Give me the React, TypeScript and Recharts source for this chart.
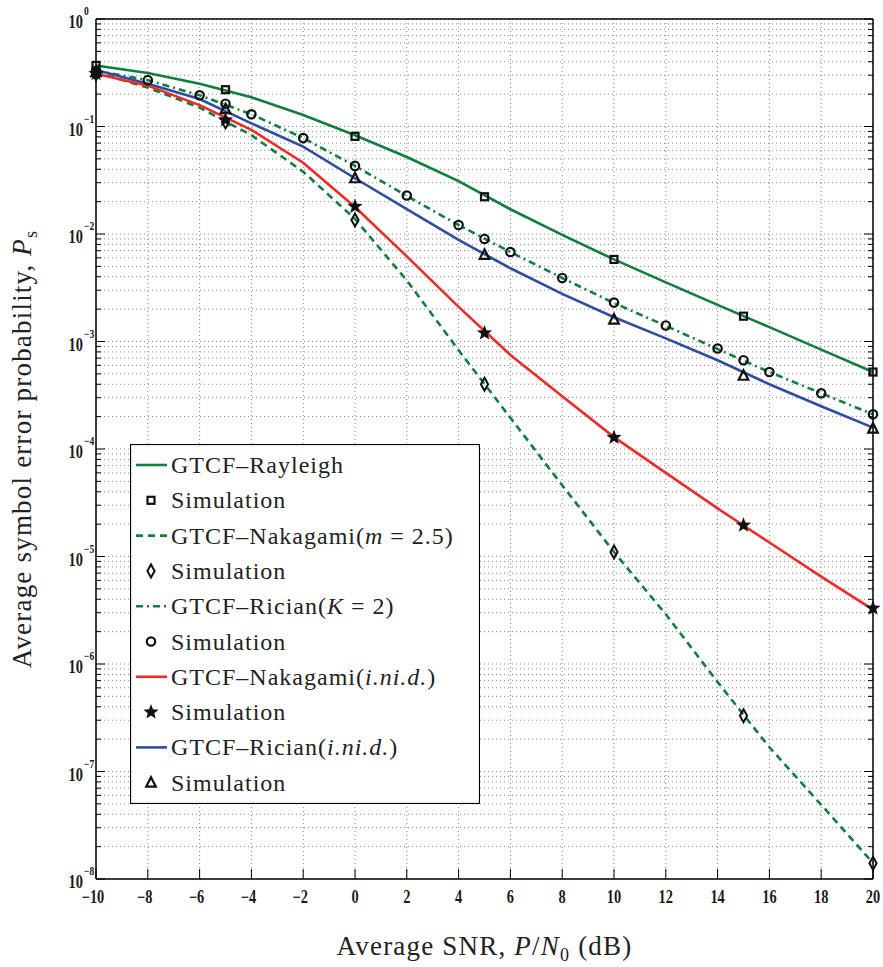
import React from 'react';
import {
  ComposedChart,
  Line,
  Scatter,
  XAxis,
  YAxis,
  CartesianGrid,
  Legend,
  Label,
} from 'recharts';

// SNR grid (dB) used by the analytical curves
const snrGrid = [-10, -8, -6, -4, -2, 0, 2, 4, 6, 8, 10, 12, 14, 16, 18, 20];

// Analytical symbol error probability
const rayleighTheory = [0.37, 0.315, 0.25, 0.187, 0.128, 0.083, 0.052, 0.031, 0.017, 0.0098, 0.0058, 0.00355, 0.00219, 0.00136, 0.00084, 0.00052];
const nakagamiTheory = [0.32, 0.23, 0.15, 0.083, 0.038, 0.0138, 0.0037, 8.3e-4, 1.95e-4, 4.6e-5, 1.1e-5, 2.9e-6, 6.8e-7, 1.68e-7, 4.9e-8, 1.41e-8];
const ricianTheory = [0.33, 0.27, 0.195, 0.13, 0.078, 0.043, 0.0226, 0.0121, 0.0068, 0.0039, 0.00228, 0.0014, 0.00085, 0.00052, 0.00033, 0.00021];
const nakagamiInidTheory = [0.31, 0.24, 0.158, 0.093, 0.046, 0.0178, 0.0062, 0.0021, 7.5e-4, 3.1e-4, 1.29e-4, 6e-5, 2.8e-5, 1.35e-5, 6.5e-6, 3.2e-6];
const ricianInidTheory = [0.335, 0.25, 0.18, 0.107, 0.065, 0.033, 0.017, 0.0088, 0.0048, 0.00277, 0.00168, 0.00107, 0.00067, 0.0004, 0.00025, 0.000158];

// Monte Carlo points
const simSnr = [-10, -5, 0, 5, 10, 15, 20];
const rayleighSim = [0.37, 0.22, 0.081, 0.0222, 0.0058, 0.00172, 0.00052];
const nakagamiSim = [0.31, 0.11, 0.0135, 4.0e-4, 1.1e-5, 3.3e-7, 1.4e-8];
const nakagamiInidSim = [0.31, 0.115, 0.018, 0.0012, 1.28e-4, 1.95e-5, 3.3e-6];
const ricianInidSim = [0.32, 0.145, 0.033, 0.0064, 0.0016, 0.00048, 0.000155];

const ricianSimSnr = [-10, -8, -6, -5, -4, -2, 0, 2, 4, 5, 6, 8, 10, 12, 14, 15, 16, 18, 20];
const ricianSim = [0.33, 0.27, 0.195, 0.163, 0.13, 0.078, 0.043, 0.0228, 0.0121, 0.009, 0.0068, 0.0039, 0.0023, 0.00141, 0.00086, 0.00067, 0.00052, 0.00033, 0.00021];

// Axis ticks
const xTicks = [-10, -8, -6, -4, -2, 0, 2, 4, 6, 8, 10, 12, 14, 16, 18, 20];
const decadeExps = [-8, -7, -6, -5, -4, -3, -2, -1];
const mantissas = [1, 2, 3, 4, 5, 6, 7, 8, 9];
const yTicks = [...decadeExps.flatMap((e) => mantissas.map((m) => m * Math.pow(10, e))), 1];

const GREEN = '#0f7f3e';
const RED = '#ee2b25';
const BLUE = '#2f4ea1';
const SERIF = '"Liberation Serif", "Times New Roman", serif';

const pts = (xs: number[], ys: number[]) => xs.map((snr, i) => ({ snr, p: ys[i] }));

type ShapeName = 'square' | 'diamond' | 'circle' | 'star' | 'triangle';

const Marker = ({ shape, cx, cy }: { shape: ShapeName; cx: number; cy: number }) => {
  const stroke = '#111';
  switch (shape) {
    case 'square':
      return <rect x={cx - 3.5} y={cy - 3.5} width={7} height={7} fill="none" stroke={stroke} strokeWidth={2.2} />;
    case 'diamond':
      return (
        <path
          d={`M${cx},${cy - 6.5} L${cx + 3.6},${cy} L${cx},${cy + 6.5} L${cx - 3.6},${cy} Z`}
          fill="none"
          stroke={stroke}
          strokeWidth={2}
        />
      );
    case 'circle':
      return <circle cx={cx} cy={cy} r={4.2} fill="none" stroke={stroke} strokeWidth={2.2} />;
    case 'star': {
      const outer = 8;
      const inner = 3.4;
      let d = '';
      for (let k = 0; k < 10; k++) {
        const r = k % 2 === 0 ? outer : inner;
        const a = -Math.PI / 2 + (k * Math.PI) / 5;
        d += `${k === 0 ? 'M' : 'L'}${cx + r * Math.cos(a)},${cy + r * Math.sin(a)} `;
      }
      return <path d={d + 'Z'} fill="#111" stroke="none" />;
    }
    case 'triangle':
      return (
        <path
          d={`M${cx},${cy - 5.5} L${cx + 4.8},${cy + 4} L${cx - 4.8},${cy + 4} Z`}
          fill="none"
          stroke={stroke}
          strokeWidth={2.2}
        />
      );
    default:
      return null;
  }
};

const markerShape = (shape: ShapeName) => (props: any) => <Marker shape={shape} cx={props.cx} cy={props.cy} />;

// condensed bold tick text, like the MATLAB export
const TickText = ({ x, y, anchor, size, children }: any) => (
  <text
    transform={`translate(${x},${y}) scale(0.8,1)`}
    textAnchor={anchor}
    style={{ fontFamily: SERIF, fontWeight: 'bold', fontSize: size }}
    fill="#1a1a1a"
  >
    {children}
  </text>
);

const isDecade = (v: number) => Math.abs(Math.log10(v) - Math.round(Math.log10(v))) < 1e-6;

const BottomTick = ({ x, y, payload }: any) => {
  const v = payload.value;
  const label = v < 0 ? `\u2212${-v}` : `${v}`;
  return (
    <g>
      <line x1={x} y1={y} x2={x} y2={y - 10} stroke="#000" strokeWidth={1} />
      <TickText x={v < 0 ? x - 3 : x} y={y + 24} anchor="middle" size={18}>
        {label}
      </TickText>
    </g>
  );
};

const TopTick = ({ x, y }: any) => <line x1={x} y1={y} x2={x} y2={y + 10} stroke="#000" strokeWidth={1} />;

const LeftTick = ({ x, y, payload }: any) => {
  const v = payload.value;
  const major = isDecade(v);
  const e = Math.round(Math.log10(v));
  return (
    <g>
      <line x1={x} y1={y} x2={x + (major ? 9 : 5)} y2={y} stroke="#000" strokeWidth={1} />
      {major && (
        <>
          <TickText x={x - 13} y={y + 9} anchor="end" size={18}>
            10
          </TickText>
          <TickText x={x - 12} y={y - 4} anchor="start" size={12}>
            {e < 0 ? `\u2212${-e}` : `${e}`}
          </TickText>
        </>
      )}
    </g>
  );
};

const RightTick = ({ x, y, payload }: any) => {
  const major = isDecade(payload.value);
  return <line x1={x} y1={y} x2={x - (major ? 9 : 5)} y2={y} stroke="#000" strokeWidth={1} />;
};

const titleStyle = { fontFamily: SERIF, fontSize: 27, letterSpacing: '1.2px' };

const XTitle = ({ viewBox }: any) => (
  <text x={viewBox.x + viewBox.width / 2} y={viewBox.y + 76} textAnchor="middle" style={titleStyle} fill="#222">
    Average SNR, <tspan style={{ fontStyle: 'italic' }}>P</tspan>/<tspan style={{ fontStyle: 'italic' }}>N</tspan>
    <tspan style={{ fontSize: 18 }} dy={6}>0</tspan>
    <tspan dy={-6}> (dB)</tspan>
  </text>
);

const YTitle = ({ viewBox }: any) => {
  const cx = viewBox.x + 31;
  const cy = viewBox.y + viewBox.height / 2;
  return (
    <text transform={`translate(${cx},${cy}) rotate(-90)`} textAnchor="middle" style={titleStyle} fill="#222">
      Average symbol error probability, <tspan style={{ fontStyle: 'italic' }}>P</tspan>
      <tspan style={{ fontSize: 18 }} dy={6}>s</tspan>
    </text>
  );
};

type LegendRow =
  | { kind: 'line'; color: string; dash?: string; label: React.ReactNode }
  | { kind: 'marker'; shape: ShapeName; label: React.ReactNode };

const it = (s: string) => <tspan style={{ fontStyle: 'italic' }}>{s}</tspan>;

const legendRows: LegendRow[] = [
  { kind: 'line', color: GREEN, label: 'GTCF\u2013Rayleigh' },
  { kind: 'marker', shape: 'square', label: 'Simulation' },
  { kind: 'line', color: GREEN, dash: '7 5', label: <>GTCF{'\u2013'}Nakagami({it('m')} = 2.5)</> },
  { kind: 'marker', shape: 'diamond', label: 'Simulation' },
  { kind: 'line', color: GREEN, dash: '7 4 2 4', label: <>GTCF{'\u2013'}Rician({it('K')} = 2)</> },
  { kind: 'marker', shape: 'circle', label: 'Simulation' },
  { kind: 'line', color: RED, label: <>GTCF{'\u2013'}Nakagami({it('i.ni.d.')})</> },
  { kind: 'marker', shape: 'star', label: 'Simulation' },
  { kind: 'line', color: BLUE, label: <>GTCF{'\u2013'}Rician({it('i.ni.d.')})</> },
  { kind: 'marker', shape: 'triangle', label: 'Simulation' },
];

const LEGEND_W = 350;
const LEGEND_H = 360;

const LegendBox = () => (
  <svg width={LEGEND_W} height={LEGEND_H} style={{ display: 'block' }}>
    <rect x={0.5} y={0.5} width={LEGEND_W - 1} height={LEGEND_H - 1} fill="#fff" stroke="#000" strokeWidth={1.2} />
    {legendRows.map((row, i) => {
      const cy = 21 + i * 35.3;
      return (
        <g key={i}>
          {row.kind === 'line' ? (
            <line x1={6} y1={cy} x2={37} y2={cy} stroke={row.color} strokeWidth={2.6} strokeDasharray={row.dash} />
          ) : (
            <Marker shape={row.shape} cx={21} cy={cy} />
          )}
          <text x={41} y={cy + 8} style={{ fontFamily: SERIF, fontSize: 24, letterSpacing: '1px' }} fill="#222">
            {row.label}
          </text>
        </g>
      );
    })}
  </svg>
);

export default function App() {
  return (
    <div style={{ position: 'absolute', left: 0, top: 0, background: '#fff' }}>
      <ComposedChart width={883} height={967} margin={{ top: 18, right: 9, bottom: 0, left: 0 }}>
        <CartesianGrid stroke="#8a8a8a" strokeDasharray="1 3" strokeWidth={1} />
        <XAxis
          dataKey="snr"
          type="number"
          domain={[-10, 20]}
          ticks={xTicks}
          interval={0}
          height={88}
          tickSize={0}
          tickMargin={0}
          tickLine={false}
          axisLine={{ stroke: '#000', strokeWidth: 1.5 }}
          tick={<BottomTick />}
        >
          <Label content={<XTitle />} />
        </XAxis>
        <XAxis
          xAxisId="top"
          orientation="top"
          dataKey="snr"
          type="number"
          domain={[-10, 20]}
          ticks={xTicks}
          interval={0}
          height={1}
          tickSize={0}
          tickMargin={0}
          tickLine={false}
          axisLine={{ stroke: '#000', strokeWidth: 1.5 }}
          tick={<TopTick />}
        />
        <YAxis
          dataKey="p"
          type="number"
          scale="log"
          domain={[1e-8, 1]}
          allowDataOverflow
          ticks={yTicks}
          interval={0}
          width={96}
          tickSize={0}
          tickMargin={0}
          tickLine={false}
          axisLine={{ stroke: '#000', strokeWidth: 1.5 }}
          tick={<LeftTick />}
        >
          <Label content={<YTitle />} />
        </YAxis>
        <YAxis
          yAxisId="right"
          orientation="right"
          dataKey="p"
          type="number"
          scale="log"
          domain={[1e-8, 1]}
          allowDataOverflow
          ticks={yTicks}
          interval={0}
          width={1}
          tickSize={0}
          tickMargin={0}
          tickLine={false}
          axisLine={{ stroke: '#000', strokeWidth: 1.5 }}
          tick={<RightTick />}
        />

        <Line data={pts(snrGrid, rayleighTheory)} dataKey="p" type="linear" stroke={GREEN} strokeWidth={2.6} dot={false} isAnimationActive={false} />
        <Line data={pts(snrGrid, ricianTheory)} dataKey="p" type="linear" stroke={GREEN} strokeWidth={2.6} strokeDasharray="7 4 2 4" dot={false} isAnimationActive={false} />
        <Line data={pts(snrGrid, nakagamiTheory)} dataKey="p" type="linear" stroke={GREEN} strokeWidth={2.6} strokeDasharray="7 5" dot={false} isAnimationActive={false} />
        <Line data={pts(snrGrid, ricianInidTheory)} dataKey="p" type="linear" stroke={BLUE} strokeWidth={2.6} dot={false} isAnimationActive={false} />
        <Line data={pts(snrGrid, nakagamiInidTheory)} dataKey="p" type="linear" stroke={RED} strokeWidth={2.6} dot={false} isAnimationActive={false} />

        <Scatter data={pts(simSnr, rayleighSim)} dataKey="p" shape={markerShape('square')} isAnimationActive={false} />
        <Scatter data={pts(simSnr, nakagamiSim)} dataKey="p" shape={markerShape('diamond')} isAnimationActive={false} />
        <Scatter data={pts(ricianSimSnr, ricianSim)} dataKey="p" shape={markerShape('circle')} isAnimationActive={false} />
        <Scatter data={pts(simSnr, nakagamiInidSim)} dataKey="p" shape={markerShape('star')} isAnimationActive={false} />
        <Scatter data={pts(simSnr, ricianInidSim)} dataKey="p" shape={markerShape('triangle')} isAnimationActive={false} />

        <Legend
          layout="vertical"
          align="center"
          verticalAlign="middle"
          width={LEGEND_W}
          height={LEGEND_H}
          wrapperStyle={{ left: 130, top: 444, width: LEGEND_W, height: LEGEND_H }}
          content={() => <LegendBox />}
        />
      </ComposedChart>
    </div>
  );
}
